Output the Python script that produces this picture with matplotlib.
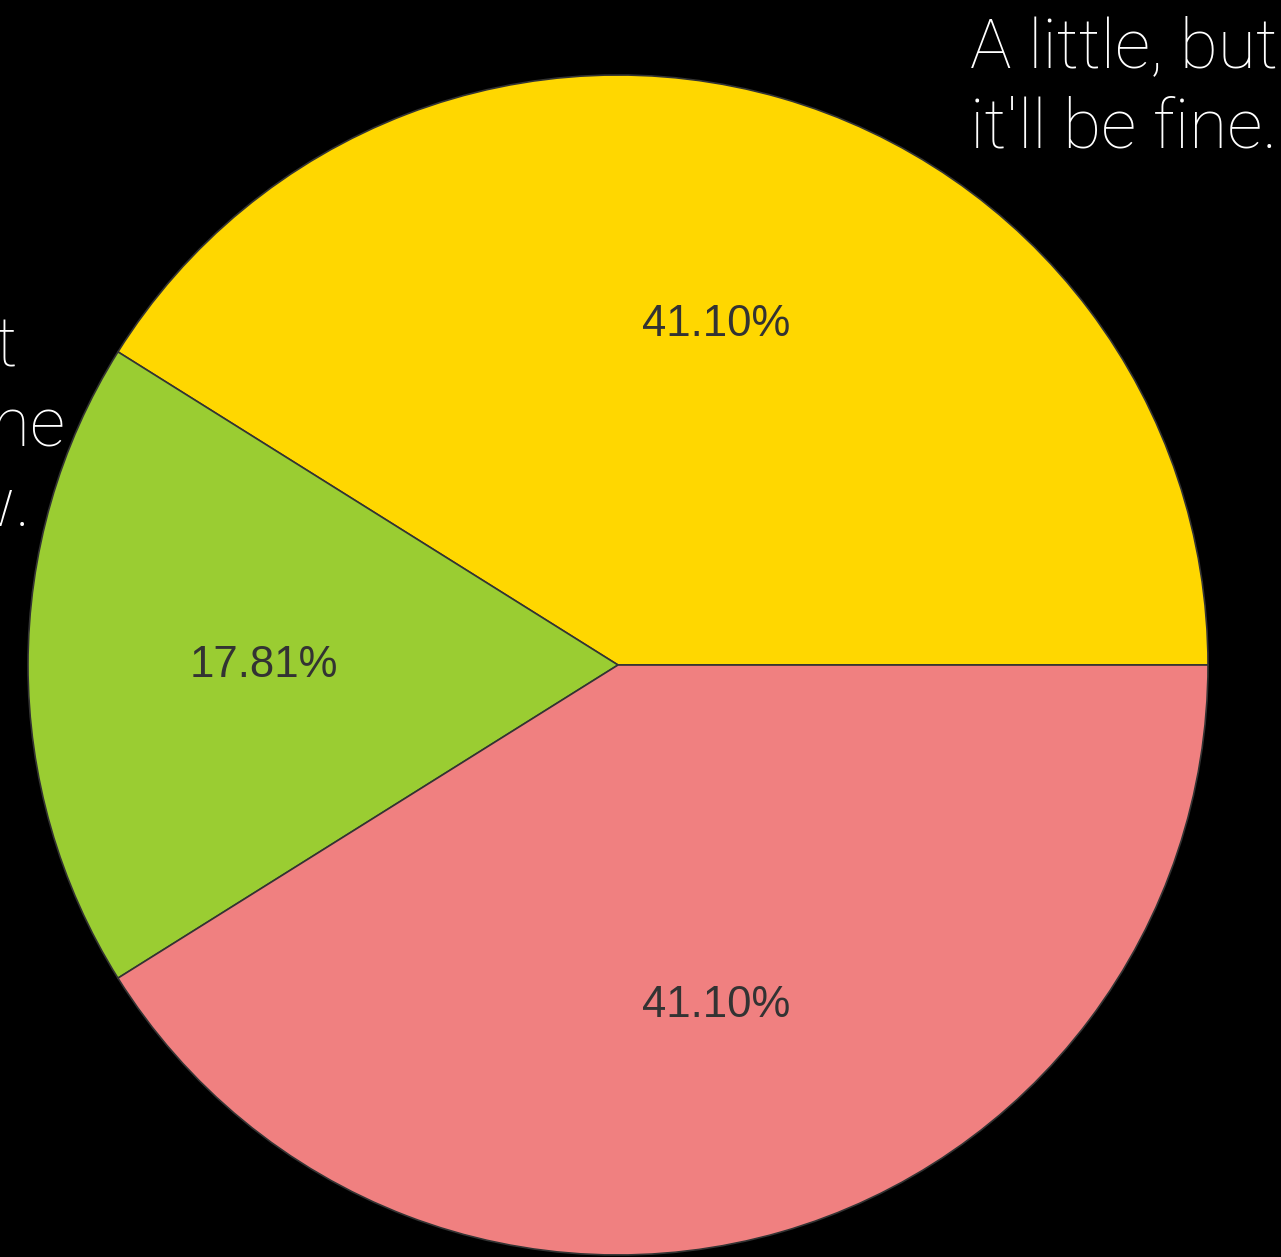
import matplotlib
matplotlib.use('Agg')
import matplotlib.pyplot as plt

# 数据
labels = ["Not much, but\nI think I'm fine\nfor right now.", "A little, but\nit'll be fine."]
counts = [13, 30, 30]
colors = ['yellowgreen', 'gold', 'lightcoral']

# pie 顺序: 黄 -> 绿 -> 粉, 从 0 度逆时针
order = [1, 0, 2]
vals = [counts[i] for i in order]
cols = [colors[i] for i in order]

W, H = 1281, 1257
fig = plt.figure(figsize=(W / 100, H / 100), dpi=100, facecolor='black')
# 圆心 (618, 665) 半径 590 像素
cx, cy, r = 618, 665, 590
ax = fig.add_axes([(cx - r) / W, (H - cy - r) / H, 2 * r / W, 2 * r / H])
ax.set_facecolor('black')

ax.pie(vals, colors=cols, startangle=0, autopct='%1.2f%%',
       pctdistance=0.6,
       wedgeprops={'edgecolor': '#333333', 'linewidth': 1.2},
       textprops={'fontsize': 31.5, 'color': '#333333',
                  'family': 'Liberation Sans'})
ax.set_xlim(-1, 1)
ax.set_ylim(-1, 1)
ax.set_aspect('equal')
ax.axis('off')

def px(x, y):
    return (x - cx) / r, (cy - y) / r

lab_font = dict(fontsize=50, color='white', family='Roboto', fontweight='light',
                linespacing=1.3)
# 右上标签
x, y = px(970, 148)
ax.text(x, y, labels[1], ha='left', va='baseline', clip_on=False, **lab_font)
# 左边标签 (被裁掉一部分), 每行居中对齐
line_ends = [17, 65, 30]
for i, line in enumerate(labels[0].split('\n')):
    x, y = px(line_ends[i], 365 + 80 * i)
    ax.text(x, y, line, ha='right', va='baseline', clip_on=False, **lab_font)

fig.savefig('out.png', dpi=100, facecolor='black')
